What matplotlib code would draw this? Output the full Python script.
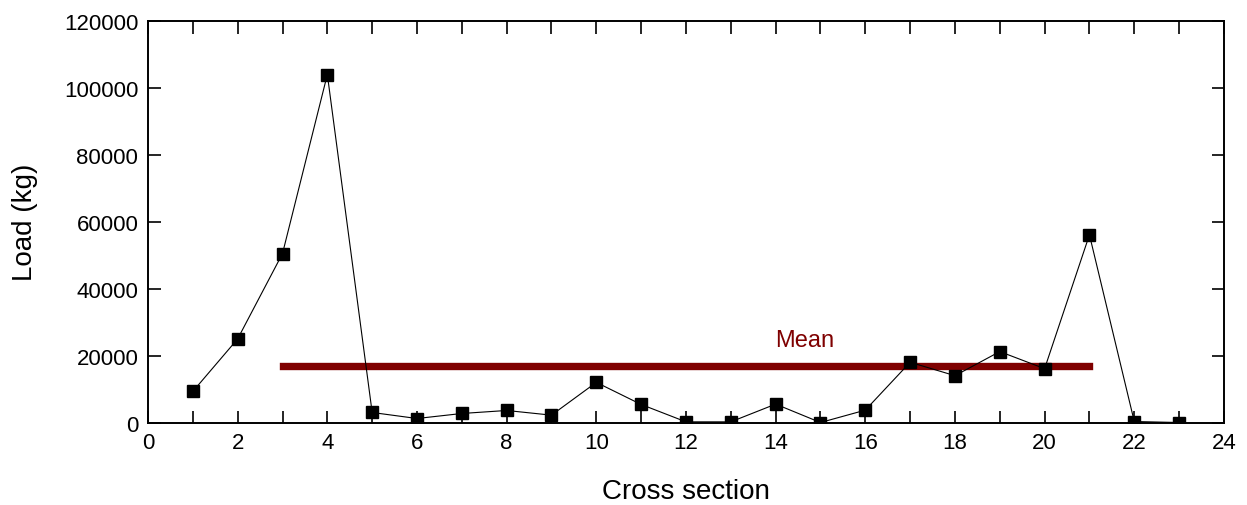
import matplotlib
matplotlib.use('Agg')
import matplotlib.pyplot as plt
from matplotlib.ticker import MultipleLocator

plt.rcParams['font.family'] = ['Liberation Sans', 'DejaVu Sans']

# cross sections and load values
section = [1, 2, 3, 4, 5, 6, 7, 8, 9, 10, 11, 12,
           13, 14, 15, 16, 17, 18, 19, 20, 21, 22, 23]
load = [9300, 25000, 50500, 104000, 3000, 1200, 2700, 3600, 2200, 12000, 5400, 200,
        200, 5500, 0, 3700, 18000, 14000, 21200, 16100, 56100, 300, 0]

mean_x = [3, 21]
mean_load = 17000
mean_col = '#7f0000'

fig = plt.figure(figsize=(12.47, 5.06), dpi=100)
ax = fig.add_axes([0.1187, 0.163, 0.8628, 0.7935])

ax.plot(mean_x, [mean_load, mean_load], color=mean_col, lw=5.3, solid_capstyle='projecting', zorder=2)
ax.text(14.65, 21500, 'Mean', color=mean_col, fontsize=17, ha='center', va='bottom')
ax.plot(section, load, '-', color='black', lw=0.8, marker='s', ms=8.3, zorder=3)

ax.set_xlim(0, 24)
ax.set_ylim(0, 120000)
ax.xaxis.set_major_locator(MultipleLocator(2))
ax.xaxis.set_minor_locator(MultipleLocator(1))
ax.yaxis.set_major_locator(MultipleLocator(20000))
ax.tick_params(which='both', direction='in', top=True, right=True, length=9, width=1.2, labelsize=16, pad=7)
for s in ax.spines.values():
    s.set_linewidth(1.4)

ax.set_xlabel('Cross section', fontsize=20, labelpad=18)
ax.set_ylabel('Load (kg)', fontsize=20, labelpad=19)

fig.savefig('out.png', dpi=100)
